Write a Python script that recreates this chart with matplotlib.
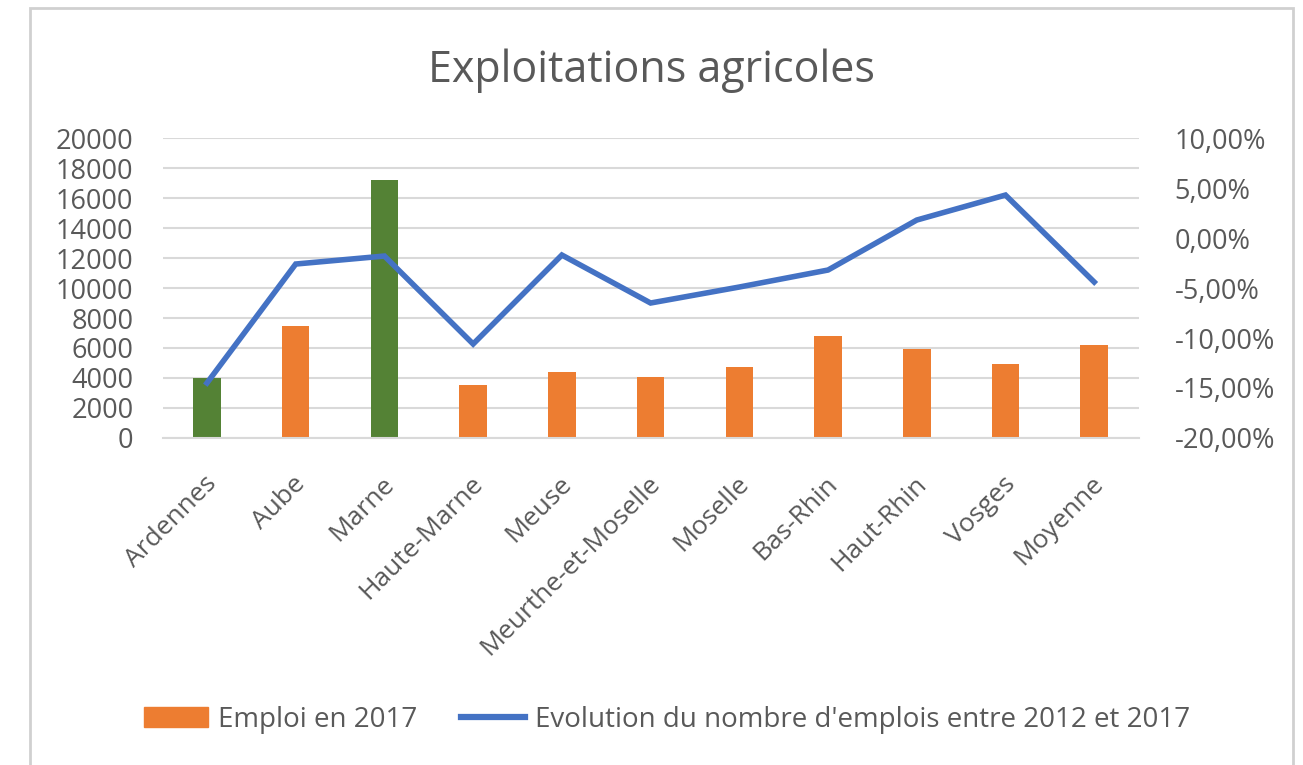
import matplotlib
matplotlib.use('Agg')
import matplotlib.pyplot as plt
from matplotlib.patches import Rectangle, Patch
from matplotlib.lines import Line2D
from matplotlib.ticker import FuncFormatter
from matplotlib.transforms import ScaledTranslation

plt.rcParams['font.family'] = ['Open Sans', 'DejaVu Sans']

# données
departements = ['Ardennes', 'Aube', 'Marne', 'Haute-Marne', 'Meuse',
                'Meurthe-et-Moselle', 'Moselle', 'Bas-Rhin', 'Haut-Rhin',
                'Vosges', 'Moyenne']
emploi_2017 = [4000, 7500, 17200, 3500, 4400, 4050, 4700, 6800, 5950, 4900, 6200]
evolution = [-14.5, -2.6, -1.8, -10.6, -1.7, -6.5, -4.9, -3.2, 1.8, 4.3, -4.4]
mis_en_avant = ['Ardennes', 'Marne']

orange = '#ED7D31'
vert = '#548235'
bleu = '#4472C4'
gris_texte = '#595959'
gris_grille = '#D9D9D9'

fig = plt.figure(figsize=(13.03, 7.65), dpi=100)
fig.patches.append(Rectangle((0.023, -0.02), 0.969, 1.0095, transform=fig.transFigure,
                             fill=False, edgecolor='#D0D0D0', linewidth=2))

ax = fig.add_axes([0.1248, 0.4275, 0.749, 0.392])
x = list(range(len(departements)))
couleurs = [vert if d in mis_en_avant else orange for d in departements]
ax.bar(x, emploi_2017, width=0.31, color=couleurs, zorder=2)
ax.set_xlim(-0.5, len(departements) - 0.5)
ax.set_ylim(0, 20000)
ax.set_yticks(range(0, 20001, 2000))
ax.grid(axis='y', color=gris_grille, linewidth=1.5, zorder=0)
for s in ['top', 'left', 'right']:
    ax.spines[s].set_visible(False)
ax.spines['bottom'].set_color(gris_grille)
ax.spines['bottom'].set_linewidth(1.5)
ax.tick_params(length=0, labelcolor=gris_texte)
ax.tick_params(axis='x', labelsize=19, pad=12)
ax.tick_params(axis='y', labelsize=19.5, pad=21)
ax.set_xticks(x)
ax.set_xticklabels(departements, rotation=45, ha='right', rotation_mode='anchor')
decalage = ScaledTranslation(-2 / 72, -12 / 72, fig.dpi_scale_trans)
for lab in ax.get_xticklabels():
    lab.set_transform(lab.get_transform() + decalage)

ax2 = ax.twinx()
ax2.plot(x, evolution, color=bleu, linewidth=4, solid_joinstyle='miter', zorder=3)
ax2.set_ylim(-20, 10)
ax2.set_yticks(range(-20, 11, 5))
ax2.yaxis.set_major_formatter(FuncFormatter(lambda v, p: f'{v:.2f}%'.replace('.', ',')))
for s in ax2.spines.values():
    s.set_visible(False)
ax2.tick_params(length=0, labelsize=19.5, labelcolor=gris_texte, pad=26)

fig.text(0.5, 0.907, 'Exploitations agricoles', ha='center', va='center',
         fontsize=31, color=gris_texte)

poignees = [Patch(color=orange), Line2D([0], [0], color=bleu, linewidth=4.5)]
fig.legend(poignees, ['Emploi en 2017', "Evolution du nombre d'emplois entre 2012 et 2017"],
           loc='center', bbox_to_anchor=(0.512, 0.059), ncol=2, frameon=False,
           fontsize=20, labelcolor=gris_texte, handlelength=2.3, handletextpad=0.35,
           columnspacing=1.6)

fig.savefig('out.png', dpi=100)
